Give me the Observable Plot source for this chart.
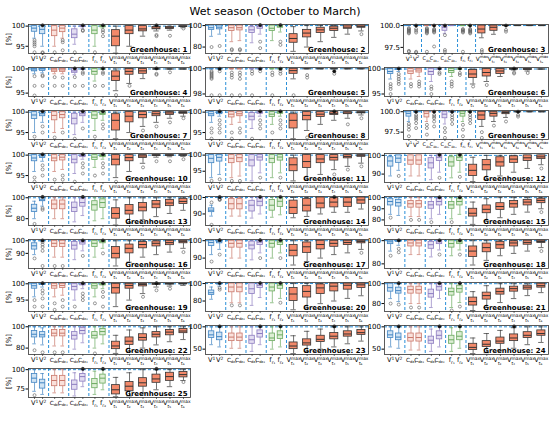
<!DOCTYPE html>
<html><head><meta charset="utf-8">
<script src="https://cdn.jsdelivr.net/npm/d3@7"></script>
<script src="https://cdn.jsdelivr.net/npm/@observablehq/plot@0.6"></script>
<style>
body{margin:0;background:#fff;font-family:"DejaVu Sans",sans-serif}
#fig{position:relative;width:550px;height:435px;overflow:hidden}
#title{position:absolute;top:5px;left:0;width:550px;text-align:center;font-size:11px;color:#000}
.panel{position:absolute}
</style></head>
<body><div id="fig"><div id="title">Wet season (October to March)</div></div>
<script>
// ---- categories (14 boxes per greenhouse) ----
const labelBase = ["V","V","C","C","C","C","f","f","V","V","V","V","V","V"];
const labelSup  = ["1","2","","","","","","","max","max","max","max","max","max"];
const labelSub  = ["","","dε₁","dε₂","dε₁","dε₂","r₁","r₂","t₁","t₂","t₃","t₄","t₅","t₆"];

// y axis per greenhouse
const yDomains = [[93.2,100.4],[74,101],[96.8,100.12],[94.3,100.3],[97.8,100.1],[94.5,100.3],[93.3,100.4],[93.3,100.4],[96.6,100.15],
 [93.3,100.4],[91.5,100.5],[85.5,101],[73.5,101.2],[83,100.6],[75,101],[78,101],[84,100.7],[76,101],
 [91.5,100.4],[68,101.2],[72,101.2],[74,101.2],[38,103],[38,103],[64,101.5]];
const yTicks = [[95,100],[80,100],[97.5,100],[95,100],[98,100],[95,100],[95,100],[95,100],[97.5,100],
 [95,100],[95,100],[90,100],[80,100],[90,100],[80,90,100],[90,100],[90,100],[80,100],
 [95,100],[80,100],[80,100],[80,100],[50,100],[50,100],[75,100]];

// box stats: [lower whisker, q1, median, q3, upper whisker]
const gh1=[[97,98.6,99.5,100,100],[95,98,99.2,100,100],[95,97.5,99,100,100],[97,98.5,99.5,100,100],[95.5,97,98,99.2,100],[99.5,99.8,100,100,100],[95,98,99,100,100],[99.5,99.7,100,100,100],[93.3,95,97.5,99,100],[95,98,99,100,100],[97.5,98.7,99.3,100,100],[98.8,99.2,99.5,99.8,100],[99,99.3,99.6,99.8,100],[99.6,99.8,99.9,100,100]];
const gh2=[[90,96,98,100,100],[92,96.5,98.5,100,100],[85,95,98,100,100],[86,95.5,98,100,100],[84,93,96,98.5,100],[92,97,99,100,100],[86,95,97.5,100,100],[94,98,99.5,100,100],[76,84,88,92,99],[80,89,93,96,100],[85,93,96,98,100],[89,95,97.5,99,100],[92,97,98.5,100,100],[95,98,99,100,100]];
const gh3=[[100,100,100,100,100],[100,100,100,100,100],[100,100,100,100,100],[100,100,100,100,100],[99.1,99.4,99.8,100,100],[100,100,100,100,100],[100,100,100,100,100],[100,100,100,100,100],[98.6,99.1,99.6,100,100],[99,99.4,99.8,100,100],[100,100,100,100,100],[100,100,100,100,100],[100,100,100,100,100],[100,100,100,100,100]];
const gh4=[[99,99.5,99.8,100,100],[99.2,99.6,100,100,100],[99,99.4,99.8,100,100],[99,99.4,99.8,100,100],[98.8,99.2,99.6,100,100],[100,100,100,100,100],[97.5,98.8,99.5,100,100],[100,100,100,100,100],[95.5,97.5,98.5,99.5,100],[97,98.8,99.5,100,100],[98,99,99.6,100,100],[100,100,100,100,100],[100,100,100,100,100],[100,100,100,100,100]];
const gh5=[[100,100,100,100,100],[100,100,100,100,100],[100,100,100,100,100],[100,100,100,100,100],[100,100,100,100,100],[100,100,100,100,100],[100,100,100,100,100],[100,100,100,100,100],[99.2,99.6,99.85,100,100],[100,100,100,100,100],[100,100,100,100,100],[100,100,100,100,100],[100,100,100,100,100],[100,100,100,100,100]];
const gh6=[[98,99,99.5,100,100],[99.5,99.8,100,100,100],[98,99,99.6,100,100],[98.5,99.3,99.8,100,100],[97.5,98.8,99.5,100,100],[100,100,100,100,100],[98.5,99.2,99.7,100,100],[100,100,100,100,100],[97,98.2,99,99.8,100],[97.5,98.5,99.3,100,100],[98.5,99,99.6,100,100],[99.8,99.9,100,100,100],[99.6,99.8,100,100,100],[100,100,100,100,100]];
const gh7=[[95,98.3,99.3,100,100],[97.5,99,99.6,100,100],[95,98,99.2,100,100],[96,98.5,99.4,100,100],[94.5,97,98.5,99.6,100],[97.5,99,99.6,100,100],[95.5,98.3,99.3,100,100],[98,99.3,99.7,100,100],[93.5,95.5,98,99.5,100],[95,97.5,99,100,100],[96.5,98.5,99.4,100,100],[97.5,99,99.6,100,100],[98.5,99.3,99.8,100,100],[99,99.6,99.9,100,100]];
const gh8=[[97.5,99,99.6,100,100],[99,99.5,99.9,100,100],[97,98.7,99.5,100,100],[97.5,99,99.6,100,100],[96,98,99,99.8,100],[99,99.6,100,100,100],[97,98.8,99.5,100,100],[99,99.6,100,100,100],[93.5,96,98,99.5,100],[95.5,98,99.2,100,100],[97,98.8,99.5,100,100],[98,99.3,99.7,100,100],[98.5,99.5,99.8,100,100],[99.3,99.7,99.9,100,100]];
const gh9=[[98.8,99.4,99.8,100,100],[100,100,100,100,100],[98.8,99.3,99.8,100,100],[100,100,100,100,100],[98.5,99.2,99.7,100,100],[100,100,100,100,100],[98.8,99.4,99.8,100,100],[100,100,100,100,100],[98.2,99,99.6,100,100],[98.8,99.4,99.8,100,100],[99.3,99.7,99.9,100,100],[100,100,100,100,100],[100,100,100,100,100],[100,100,100,100,100]];
const gh10=[[96,98.5,99.3,100,100],[98.5,99.3,99.8,100,100],[96,98.5,99.3,100,100],[96.5,98.7,99.5,100,100],[95.5,98,99,100,100],[99,99.5,99.9,100,100],[97,98.8,99.5,100,100],[99,99.5,99.9,100,100],[94.5,97.5,99,100,100],[96,98.5,99.4,100,100],[98,99.3,99.8,100,100],[99.5,99.8,100,100,100],[99.6,99.8,100,100,100],[99.7,99.9,100,100,100]];
const gh11=[[93,97.5,99,100,100],[94,98,99.3,100,100],[93,97.5,99,100,100],[93.5,97.8,99.2,100,100],[92,96.5,98.5,100,100],[94.5,98.3,99.4,100,100],[93,97.5,99,100,100],[94.5,98.3,99.4,100,100],[92,95,97,99,100],[92.5,96,98,100,100],[94,97.5,98.8,100,100],[95.5,98.3,99.3,100,100],[96.5,99,99.6,100,100],[97.5,99.5,99.8,100,100]];
const gh12=[[89,94,97,99,100],[92,96,98.5,100,100],[89,95,97.5,100,100],[89,95,97.5,100,100],[87,93,96,98.5,100],[91,97,99,100,100],[88,94,96.5,99,100],[91,97,99,100,100],[86,89,92,95,99],[87,92,95,97.5,100],[89,94,96.5,99,100],[91,96,98,99.5,100],[93,97,98.7,100,100],[95,98,99.2,100,100]];
const gh13=[[80,86.4,90,93.3,96.7],[92,96.7,98,100,100],[80,89,94,97.4,100],[80,89,94,97.4,100],[77,86.4,90.8,95.4,100],[83,91.5,95.4,99.2,100],[78,87.7,93.3,96.7,100],[80,90.3,95.4,98.5,100],[74,80,85,90,98],[76,84,88,93,100],[79,87,91,95,100],[82,90,94,97,100],[85,92,95,98,100],[88,94,96.5,99,100]];
const gh14=[[88.7,91.1,92.3,93.4,95.3],[99.5,99.8,100,100,100],[88.7,92.8,96.2,99,100],[88.7,92.8,96.2,99,100],[87.5,91.5,95.3,98,100],[90,94.7,97.7,100,100],[88,92,95.3,98.5,100],[89.5,94.3,97.7,100,100],[87.7,90,94,98.1,100],[88.5,91.5,95.3,99,100],[90,93.4,96.6,100,100],[91,94,97.2,99.6,100],[91,94.3,97.2,99.6,100],[93,96.2,98.5,100,100]];
const gh15=[[85,93,96.5,99,100],[84,92,95.5,98,100],[83,91,94.5,97,100],[83,91,94.5,97,100],[81,90,93.5,96,100],[85,93,96.5,99,100],[81,90,93.5,96,100],[85,93,96.5,99,100],[76,83,86,90,96],[79,86,89.5,93,99],[82,89,92,95,100],[85,91,94.5,97,100],[87,93,96,98,100],[90,95,97.5,99,100]];
const gh16=[[89,93,96,98,100],[100,100,100,100,100],[87,95,98,100,100],[87,95,98,100,100],[85,93,96.5,99,100],[92,97,99,100,100],[87,95,98,100,100],[94,98,99.5,100,100],[80,86,90,95,100],[83,90,94,97,100],[87,94,97,99,100],[89,95.5,98,99.5,100],[91,96.5,98.5,100,100],[94,98,99.3,100,100]];
const gh17=[[92,97,99,100,100],[95,98.5,99.5,100,100],[90,96,98.5,100,100],[90,96,98.5,100,100],[89,95,97.5,99.5,100],[93,97.5,99.2,100,100],[90,96,98.5,100,100],[93,97.5,99.2,100,100],[86,91,94.5,97.5,100],[88,93,96.5,99,100],[90,95,97.8,100,100],[92,96.5,98.5,100,100],[93,97.5,99,100,100],[95,98.5,99.5,100,100]];
const gh18=[[91,97,99,100,100],[96,99,99.7,100,100],[88,95,98,100,100],[88,95,98,100,100],[86,93,96.5,99,100],[92,97,99,100,100],[87,94,97.5,100,100],[92,97,99,100,100],[79,86,91,95,100],[83,90,94,97.5,100],[87,93,96.5,99,100],[89,95,98,99.5,100],[91,96.5,98.5,100,100],[94,98,99.3,100,100]];
const gh19=[[96,98.5,99.4,100,100],[99,99.6,100,100,100],[96,98.5,99.4,100,100],[96.5,98.7,99.5,100,100],[95,98,99.2,100,100],[98.5,99.5,99.9,100,100],[96,98.5,99.4,100,100],[98.5,99.5,99.9,100,100],[93,97,98.8,100,100],[95,98.5,99.5,100,100],[97,99.2,99.8,100,100],[99,99.7,100,100,100],[99.3,99.8,100,100,100],[99.5,99.9,100,100,100]];
const gh20=[[82,87,89.5,92,96],[97,99,99.7,100,100],[78,90,96,100,100],[78,90,96,100,100],[75,88,94,100,100],[84,95,98,100,100],[78,91,96,100,100],[83,94,98,100,100],[70,80,88,95,100],[72,84,91,97,100],[77,88,95,99,100],[80,91,97,100,100],[83,93,98,100,100],[86,95,98.5,100,100]];
const gh21=[[85,92,96,100,100],[82,90,93,96,100],[80,90,94,97,100],[80,90,94,97,100],[76,86,90,94,100],[85,93,97,100,100],[76,88,92,95,100],[81,91,95,98,100],[73,78,82,86,92],[76,84,88,91,98],[81,89,92,95,100],[85,92,95,97,100],[88,94,96.5,98,100],[91,96,98,100,100]];
const gh22=[[84,90,93,96,100],[83,90,92.5,95,99],[82,91,94,97,100],[82,91,94,97,100],[79,88,92,95,100],[85,93,96.5,99,100],[80,89,92,95,100],[84,92,95.5,98,100],[75,79,82,86,92],[77,83,86.5,90,97],[80,87,90,93,99],[83,90,93,95,100],[86,92,95,97,100],[88,94,96,98,100]];
const gh23=[[60,75,82,90,100],[55,70,78,87,100],[52,68,77,85,100],[52,68,77,85,100],[45,62,71,80,100],[60,76,85,92,100],[50,68,75,85,100],[55,73,82,90,100],[40,50,57,65,80],[45,58,64,72,90],[50,66,72,80,95],[55,72,79,86,100],[62,78,84,90,100],[68,82,87,93,100]];
const gh24=[[55,75,82,90,100],[52,70,77,85,100],[48,67,76,85,100],[48,67,76,85,100],[45,62,70,78,95],[55,72,81,90,100],[45,62,71,80,98],[52,70,79,88,100],[40,48,54,62,75],[42,55,61,68,85],[48,62,68,76,92],[52,68,75,83,98],[60,75,81,88,100],[65,80,85,92,100]];
const gh25=[[72,83,89,94.5,100],[68,75.5,83,87,95],[70,78.6,86,92,100],[70,78.6,86,92,100],[66,74,81,86,96],[78,84.5,91,94.5,100],[68,76,82,88,98],[74,82,89,93.6,100],[65,68,74,80,90],[66,72,78.6,84,96],[70,78,83,89,100],[74,83,88,93.6,100],[78,85.5,91,96,100],[86,90,93.6,97,100]];

// outliers: [box index, value]
const out1=[[0,96.5],[0,96],[0,95.5],[0,95],[0,93.5],[1,93.5],[1,93.3],[2,93.5],[3,96.5],[3,96],[3,94],[4,93.5],[5,99],[5,98.8],[6,93.5],[7,99],[7,98.5],[7,97.5],[11,97.8],[11,97.5],[12,97.6],[13,99.4]];
const out2=[[0,80],[1,81],[2,78],[2,77],[3,78],[3,77],[5,85],[5,79],[7,85],[7,82],[13,92]];
const out3=[[0,99.7],[0,99.6],[0,99.5],[0,99.4],[0,99.3],[0,99.2],[0,99.1],[0,97.1],[0,97],[1,99.6],[1,99.4],[1,99.2],[1,97],[1,96.9],[2,99.7],[2,99.6],[2,99.5],[2,99.4],[2,99.3],[2,99.2],[2,99.1],[2,97],[3,99.6],[3,99.5],[3,99.4],[3,99.3],[3,99.2],[3,97.6],[4,98.9],[4,97.2],[4,97],[6,99.6],[6,99.5],[6,99.4],[6,99.3],[6,99.2],[6,97],[7,99.6],[7,99.5],[7,99.4],[7,99.3],[7,99.2],[7,99.1],[8,97.2],[8,97],[10,99.5],[10,99.3]];
const out4=[[0,98.5],[0,96.5],[0,94.5],[1,98.7],[1,98.5],[1,96.5],[2,98.3],[2,96.5],[3,98.2],[3,96.5],[4,98.3],[4,96.5],[5,99.3],[5,99],[5,96.5],[6,96.5],[7,99.3],[7,99],[7,96.5],[8,94.6],[9,96.5],[11,99],[11,98.8],[12,99.3]];
const out5=[[0,99.8],[0,99.7],[0,99.6],[0,99.5],[0,99.4],[0,99.3],[0,99.2],[0,97.9],[1,99.8],[1,97.9],[2,99.7],[2,99.5],[2,99.3],[2,97.9],[3,99.7],[3,99.5],[3,99.2],[3,97.9],[4,99.8],[4,99.6],[4,97.9],[5,99.8],[6,99.7],[6,99.5],[6,97.9],[7,99.8],[7,99.6],[8,97.9],[9,99.5],[9,99.3],[11,99.6]];
const out6=[[0,97],[0,96.5],[0,96],[0,95],[1,99],[1,98.5],[1,98],[1,97.5],[1,97],[2,97],[2,96.5],[3,97.5],[3,97],[3,96.5],[4,96.5],[4,96],[4,95],[5,99.3],[5,99],[6,97.5],[6,97],[6,96.5],[7,99.2],[7,98.8],[8,96.5],[9,96.8],[11,99.3],[11,99.1],[12,99.2]];
const out7=[[0,94],[1,96.5],[1,95],[2,93.8],[3,95],[4,93.5],[5,96],[6,94],[7,97],[7,96],[10,95.5],[11,96.5],[12,97.5],[13,98.5]];
const out8=[[0,96],[0,95],[0,93.5],[1,98],[1,97],[1,96],[1,95],[2,95],[2,93.5],[3,96],[3,95],[4,93.5],[5,98],[5,97],[5,96],[6,95],[7,98],[7,97],[7,96],[9,93.8],[12,97],[13,98.5]];
const out9=[[0,98.5],[0,98.2],[0,97.8],[0,97],[1,99.6],[1,99.4],[1,99.2],[1,99],[1,98.6],[1,98],[2,98.4],[2,98],[2,97.2],[3,99.6],[3,99.4],[3,99.2],[3,98.8],[3,98.2],[4,98],[4,97.5],[4,96.8],[5,99.6],[5,99.3],[5,99],[5,98.5],[6,98.4],[6,97.8],[6,97],[7,99.6],[7,99.3],[7,99],[7,98.6],[8,97.5],[8,96.8],[9,98.3],[10,98.8],[11,99.6],[11,99.4]];
const out10=[[0,94.5],[0,93.5],[1,97.5],[1,96.5],[1,95],[2,94],[3,95],[3,94],[4,93.5],[5,98],[5,97],[5,95.5],[6,95],[7,98],[7,97],[7,95.5],[8,93.5],[9,94.5],[10,97],[11,98.5],[12,98.5],[13,99]];
const out11=[[0,92],[1,92.5],[2,92],[3,92],[5,93],[7,93],[11,94],[12,95.5],[13,96.5]];
const out12=[[1,89],[5,88],[7,88.5],[13,93]];
const out13=[[0,75],[1,88.5],[1,90]];
const out14=[[0,83.4],[0,97],[1,99.2],[1,98.8],[1,98.5]];
const out15=[[0,82],[2,80],[3,80],[4,78],[6,78],[13,87]];
const out16=[[0,86],[1,99],[1,97],[1,95],[1,92],[1,80],[2,80],[3,80],[5,88],[7,90],[13,91]];
const out17=[[0,88],[1,92],[5,90],[7,90],[13,93]];
const out18=[[0,87],[1,93],[1,90],[5,88],[7,88],[13,91]];
const out19=[[0,95],[0,93],[1,98],[1,97],[1,95.5],[1,93],[2,94],[2,92],[3,95],[3,93],[4,93],[5,97],[5,96],[5,95],[6,94],[7,97.5],[7,96],[7,93],[9,93],[10,96],[11,98],[12,98.5]];
const out20=[[1,95],[1,93],[2,75],[3,75],[7,78]];
const out21=[[0,80],[1,79],[2,76],[3,76],[7,77],[6,73]];
const out22=[[0,78],[1,76],[2,76],[3,76],[6,75]];
const out23=[];
const out24=[];
const out25=[[0,67],[13,84]];

// filled black markers near the top: [box index, value]
const dots = [
 [[1,100.2],[5,100.2],[7,100.2],[11,100.2]], [[5,100.5],[7,100.5]], [[1,100],[3,100],[4,100],[7,100],[10,100]],
 [[4,100.1],[5,100.1],[7,100.1],[11,100.1]], [[1,100],[5,100],[7,100],[11,99.8]], [[1,100.1],[5,100.1],[7,100.1],[11,100.1]],
 [[1,100.2],[5,100.2],[7,100.2]], [[1,100.2],[5,100.2],[7,100.2],[11,100.2]], [[1,100],[3,100],[5,100],[7,100],[11,100]],
 [[1,100.2],[5,100.2],[7,100.2]], [], [[5,100.3],[7,100.3]],
 [[1,100.8],[5,100.8]], [[1,100.3],[5,100.3],[7,100.3],[11,100.3]], [[5,100.3],[7,100.3]],
 [[1,100.3],[5,100.3],[7,100.3]], [[1,100.3],[5,100.3],[7,100.3]], [[1,100.3],[5,100.3],[7,100.3]],
 [[1,100.2],[5,100.2],[7,100.2],[11,100.2]], [[1,100.5],[5,100.5],[7,100.5]], [[1,100.5],[5,100.5],[7,100.5]],
 [], [[1,101],[5,101],[7,101],[11,101]], [[1,101],[5,101],[7,101],[11,101]], [[5,101],[7,101],[11,101]]];

const allBoxes=[gh1,gh2,gh3,gh4,gh5,gh6,gh7,gh8,gh9,gh10,gh11,gh12,gh13,gh14,gh15,gh16,gh17,gh18,gh19,gh20,gh21,gh22,gh23,gh24,gh25];
const allOut=[out1,out2,out3,out4,out5,out6,out7,out8,out9,out10,out11,out12,out13,out14,out15,out16,out17,out18,out19,out20,out21,out22,out23,out24,out25];

// ---- styling / layout ----
const fills  = ["#cfe3f4","#fae1db","#e3ddf1","#ddeed5","#f3896a"];
const edges  = ["#3f83c2","#c9776a","#8b7bbf","#6aa95f","#333333"];
const blue = "#2a8fd8";
const grp = i => i < 8 ? Math.floor(i/2) : 4;
const pos = i => i < 8 ? Math.floor(i/2) + (i % 2 ? 0.7 : 0.3) : 4.35 + 0.67*(i-8);
const bw  = i => i < 8 ? 0.27 : 0.4;
const colStart=[0,178,356], colLeft=[28,205,384], colRight=[190,368,548];
const fig = document.getElementById("fig");
const idx = d3.range(14);
const NS = "http://www.w3.org/2000/svg";

// turn a plain tick label into base + superscript / subscript tspans
function richLabel(el, i, s) {
  el.textContent = "";
  const base = document.createElementNS(NS, "tspan");
  base.textContent = labelBase[i];
  el.appendChild(base);
  let supLen = 0;
  if (labelSup[i]) {
    const t = document.createElementNS(NS, "tspan");
    t.textContent = labelSup[i];
    t.setAttribute("font-size", 4.4*s);
    t.setAttribute("dy", -2.7*s);
    el.appendChild(t);
    supLen = t.getComputedTextLength();
  }
  if (labelSub[i]) {
    const t = document.createElementNS(NS, "tspan");
    t.textContent = labelSub[i];
    t.setAttribute("font-size", 4.4*s);
    if (labelSup[i]) { t.setAttribute("dx", -supLen); t.setAttribute("dy", 5.2*s); }
    else t.setAttribute("dy", 2.1*s);
    el.appendChild(t);
  }
}

allBoxes.forEach((boxes, k) => {
  const row = Math.floor(k/3), col = k%3;
  const top = 24 + row*43, fh = 29;
  const narrow = (k===2 || k===8);
  const left = narrow ? 403 : colLeft[col];
  const ls = narrow ? 0.88 : 1;   // label scale for the narrower panels
  const lsc = i => (i >= 2 && i < 6 ? 0.86 : 1) * ls;  // C labels are the widest
  const rows = boxes.map((b,i)=>({x:pos(i), w:bw(i), g:grp(i), lo:b[0], q1:b[1], med:b[2], q3:b[3], hi:b[4]}));
  const outs = allOut[k];
  const fmt = narrow ? d3.format(".1f") : d3.format("d");
  const mt = 3, mb = 13;
  const wc = d => d.g===4 ? "#333" : edges[d.g];
  const svg = Plot.plot({
    width: colRight[col] - colStart[col] + 2,
    height: fh + mt + mb,
    marginLeft: left - colStart[col], marginRight: 2, marginTop: mt, marginBottom: mb,
    style: {fontFamily: "DejaVu Sans, sans-serif", fontSize: "7px", background: "transparent", overflow: "visible"},
    x: {domain: [0, 8.05], axis: null},
    y: {domain: yDomains[k], axis: null},
    color: {type: "identity"},
    marks: [
      Plot.ruleY([100], {stroke: blue, strokeDasharray: "3,2", strokeWidth: 1}),
      Plot.ruleX([1,2,3,4], {stroke: blue, strokeDasharray: "3,2", strokeWidth: 1}),
      Plot.ruleX(rows, {x: "x", y1: "lo", y2: "q1", stroke: wc, strokeWidth: 0.7}),
      Plot.ruleX(rows, {x: "x", y1: "q3", y2: "hi", stroke: wc, strokeWidth: 0.7}),
      Plot.ruleY(rows, {y: "lo", x1: d => d.x - d.w/3, x2: d => d.x + d.w/3, stroke: wc, strokeWidth: 0.7}),
      Plot.ruleY(rows, {y: "hi", x1: d => d.x - d.w/3, x2: d => d.x + d.w/3, stroke: wc, strokeWidth: 0.7}),
      Plot.rect(rows, {x1: d => d.x - d.w/2, x2: d => d.x + d.w/2, y1: "q1", y2: "q3", fill: d => fills[d.g], stroke: d => edges[d.g], strokeWidth: 0.8}),
      Plot.ruleY(rows, {y: "med", x1: d => d.x - d.w/2, x2: d => d.x + d.w/2, stroke: d => edges[d.g], strokeWidth: 1}),
      Plot.dot(outs, {x: d => pos(d[0]), y: d => d[1], r: 1.5, stroke: "#555", strokeWidth: 0.6, fill: "none"}),
      Plot.dot(dots[k], {x: d => pos(d[0]), y: d => d[1], r: 1.6, fill: "#111", stroke: "#111", strokeWidth: 0.5}),
      Plot.frame({stroke: "#333", strokeWidth: 0.8}),
      Plot.axisY({ticks: yTicks[k], tickFormat: fmt, tickSize: 2.5, tickPadding: 1, fontSize: 7,
                  label: col===0 ? "[%]" : null, labelAnchor: "center", labelArrow: "none", labelOffset: 22}),
      // short x tick marks below the frame
      Plot.ruleX(idx, {x: pos, insetTop: fh, insetBottom: -2, stroke: "#333", strokeWidth: 0.7}),
      Plot.text(idx, {x: pos, frameAnchor: "bottom", text: i => labelBase[i] + labelSup[i] + labelSub[i],
                      textAnchor: "middle", lineAnchor: "top", dy: 3, fontSize: i => 6.6*lsc(i)}),
      Plot.text([`Greenhouse: ${k+1}`], {frameAnchor: "bottom-right", dx: -3, dy: -1.5, lineAnchor: "bottom", fontWeight: "bold", fontSize: 7, fill: "#000"})
    ]
  });
  svg.classList.add("panel");
  svg.style.left = colStart[col] + "px";
  svg.style.top = (top - mt) + "px";
  fig.appendChild(svg);
  const lblGroup = svg.querySelectorAll('g[aria-label="text"]')[0];
  lblGroup.querySelectorAll("text").forEach((el, i) => richLabel(el, i, lsc(i)));
});
</script>
</body></html>
